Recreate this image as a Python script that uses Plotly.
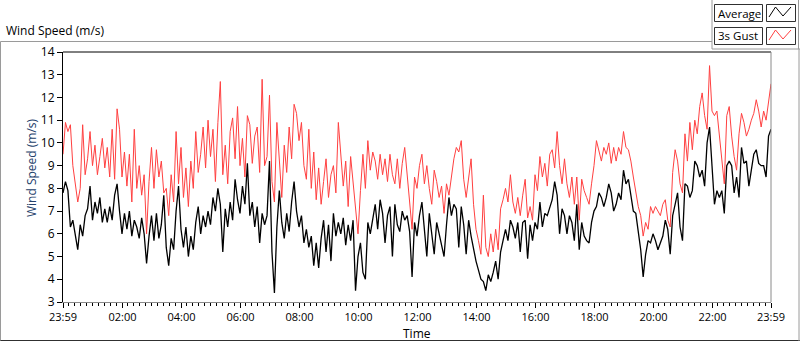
import plotly.graph_objects as go
import pandas as pd

# ---------------- data ----------------
START = "2024-05-01 23:59"
END = "2024-05-02 23:59"
SAMPLE = "5min"

avg_speed = [
    7.8, 8.3, 7.9, 6.3, 6.6, 6.0, 5.3, 6.4, 5.9, 6.8, 7.1, 8.1, 6.6, 7.4, 6.9, 7.6, 6.5, 7.1,
    6.5, 7.2, 6.6, 7.7, 8.2, 7.0, 6.0, 6.9, 6.2, 7.0, 5.9, 6.6, 6.3, 5.8, 6.7, 6.0, 4.7, 5.9,
    6.8, 5.7, 6.9, 5.8, 6.4, 7.7,
    5.4, 4.6, 5.8, 5.3, 7.0, 8.1, 6.2, 5.4, 6.3, 5.0, 5.9, 5.3, 6.5, 7.2, 6.0, 6.8, 6.3, 7.0,
    6.4, 7.6, 7.0, 8.0, 7.3, 5.2, 7.1, 6.3, 7.4, 6.6, 8.4, 7.5, 6.9, 8.1, 7.3, 9.1, 6.8, 7.4,
    6.3, 7.2, 5.6, 6.9, 6.4,
    6.8, 9.2, 5.2, 3.4, 6.3, 7.9, 6.5, 5.8, 6.9, 6.1, 7.4, 8.3, 7.0, 6.3, 6.8, 5.6, 6.2, 5.4,
    5.9, 4.6, 5.6, 4.5, 5.8, 6.6, 5.2, 6.4, 4.8, 6.9, 5.9, 6.5, 6.0, 6.7, 5.5, 6.4, 5.7, 6.6,
    3.5, 5.0, 5.6, 4.3,
    4.0, 6.5, 6.0, 6.7, 7.3, 6.2, 7.5, 6.9, 5.6, 6.8, 7.2, 5.0, 7.3, 6.4, 6.1, 7.0, 6.6, 6.8,
    6.1, 4.1, 6.5, 5.9, 6.8, 7.4, 6.3, 5.0, 6.9, 5.9, 5.1, 6.5, 6.0, 5.4, 5.0, 6.4, 7.6, 6.8,
    7.3, 7.1, 5.4, 7.2, 6.4,
    5.1, 6.6, 5.9, 5.3, 4.8, 4.4, 4.0, 3.9, 3.5, 4.2, 3.9, 4.3, 4.8, 4.0, 5.2, 5.7, 6.2, 5.7,
    6.6, 6.3, 5.8, 6.5, 5.2, 6.5, 6.6, 4.9, 6.4, 5.7, 6.5, 6.2, 7.4, 6.3, 6.9, 6.8, 7.2, 7.5,
    8.3, 7.7, 6.0, 7.1, 6.8,
    6.0, 6.8, 6.5, 5.7, 7.3, 5.3, 6.5, 5.9, 5.7, 5.6, 6.5, 7.0, 7.2, 7.8, 7.6, 7.2, 7.6, 8.2,
    7.8, 7.0, 7.3, 7.8, 7.5, 8.8, 8.2, 8.4, 7.6, 7.0, 6.9, 6.2, 5.3, 4.1, 5.1, 5.7, 5.6, 6.0,
    5.7, 5.3, 5.6, 5.9, 6.6,
    6.2, 5.1, 6.8, 7.3, 7.8, 6.3, 5.7, 8.2, 8.1, 7.6, 7.9, 9.2, 9.0, 8.5, 8.8, 8.1, 10.0, 10.7,
    8.7, 7.3, 7.9, 7.6, 7.9, 6.9, 9.0, 9.2, 9.0, 7.8, 8.5, 7.6, 9.8, 9.1, 9.2, 8.1, 8.8, 9.5,
    9.7, 9.1, 9.0, 9.0, 8.5, 10.3, 10.6,
]

gust_speed = [
    9.5, 10.9, 10.5, 10.8, 9.0, 8.2, 7.4, 8.0, 10.8, 8.6, 9.3, 10.5, 9.0, 9.9, 8.6, 9.4, 10.2, 8.9,
    9.8, 8.5, 10.6, 8.4, 11.5, 10.6, 8.5, 9.6, 8.1, 9.5, 7.4, 10.6, 8.0, 9.0, 7.7, 8.6, 6.0, 8.3,
    9.8, 8.0, 9.7, 8.5, 9.2, 7.8,
    8.0, 6.8, 8.6, 7.4, 10.5, 8.2, 9.8, 7.6, 8.9, 7.2, 9.2, 8.0, 10.5, 8.7, 9.5, 10.7, 8.9, 11.0,
    9.4, 10.6, 8.3, 10.9, 12.7, 8.6, 9.9, 8.2, 10.5, 11.1, 9.3, 11.6, 9.0, 10.2, 8.5, 11.2, 10.8,
    9.1, 10.3, 10.7, 8.7, 12.8, 9.0,
    9.4, 12.1, 8.3, 7.4, 10.9, 9.0, 7.6, 9.9, 8.7, 10.7, 9.3, 11.7, 11.3, 10.1, 10.9, 9.0, 8.4,
    10.6, 8.0, 9.6, 7.5, 8.9, 7.3, 8.3, 9.3, 7.6, 8.6, 9.0, 7.8, 10.9, 9.5, 8.1, 9.2, 7.2, 9.4,
    8.2, 7.0, 6.0, 7.9, 9.5,
    8.0, 10.1, 8.8, 9.6, 9.2, 8.4, 9.5, 8.6, 9.3, 8.3, 9.5, 8.6, 8.2, 9.3, 8.0, 9.1, 9.8, 8.6,
    7.7, 6.2, 8.5, 8.0, 9.0, 9.5, 8.2, 9.0, 8.0, 7.3, 8.8, 8.3, 7.6, 8.1, 6.9, 8.2, 7.7, 8.6,
    9.3, 9.8, 9.6, 10.1, 8.4,
    7.6, 8.4, 9.3, 7.3, 6.2, 5.7, 5.1, 7.7, 5.4, 5.0, 6.0, 5.2, 6.2, 5.3, 7.1, 7.5, 8.0, 7.4,
    8.6, 7.4, 6.9, 7.6, 6.8, 7.7, 8.4, 6.7, 7.2, 6.6, 8.6, 7.9, 9.4, 8.5, 9.1, 8.1, 9.5, 9.7,
    8.9, 10.5, 9.0, 8.2, 9.3,
    8.2, 7.6, 8.5, 7.3, 8.5, 6.6, 8.4, 7.9, 7.6, 7.3, 8.2, 9.0, 10.1, 9.7, 9.2, 9.8, 9.5, 10.0,
    9.1, 9.8, 9.2, 9.8, 9.5, 10.5, 9.8, 9.7, 9.2, 8.5, 7.9, 7.2, 6.8, 5.9, 6.5, 6.2, 7.2, 6.9,
    7.2, 7.0, 6.8, 7.3, 7.5,
    6.6, 6.3, 8.7, 9.7, 9.2, 8.2, 7.8, 10.4, 9.2, 10.9, 9.7, 11.0, 10.4, 11.6, 12.2, 11.2, 10.6,
    13.4, 11.4, 11.2, 11.4, 10.3, 9.0, 8.2, 11.2, 11.6, 10.3, 9.4, 8.8, 10.4, 11.3, 10.9, 10.3,
    10.6, 11.0, 11.3, 11.9, 11.4, 10.7, 11.4, 11.0, 11.9, 12.6,
]

tick_times = [START] + [f"2024-05-02 {h:02d}:00" for h in range(2, 24, 2)] + [END]
tick_text = ["23:59"] + [f"{h:02d}:00" for h in range(2, 24, 2)] + ["23:59"]
y_ticks = list(range(3, 15))

times = pd.date_range(START, periods=len(avg_speed), freq=SAMPLE)

# ---------------- geometry helpers ----------------
W, H = 800, 342
L, R, T, B = 63, 771, 52, 302
FONT = "Open Sans"


def px(x):
    return (x - L) / (R - L)


def py(y):
    return (B - y) / (B - T)


def line(x0, y0, x1, y1, color, width=1):
    return dict(type="line", xref="paper", yref="paper",
                x0=px(x0), y0=py(y0), x1=px(x1), y1=py(y1),
                line=dict(color=color, width=width), layer="above")


def rect(x0, y0, x1, y1, color):
    return dict(type="rect", xref="paper", yref="paper",
                x0=px(x0), y0=py(y0), x1=px(x1), y1=py(y1),
                line=dict(color=color, width=1), fillcolor="rgba(0,0,0,0)", layer="above")


def zig(x0, y0, color):
    pts = [(x0, y0 + 10), (x0 + 6.5, y0), (x0 + 14, y0 + 9), (x0 + 22, y0)]
    path = "M " + " L ".join(f"{px(a)},{py(b)}" for a, b in pts)
    return dict(type="path", xref="paper", yref="paper", path=path,
                line=dict(color=color, width=1), layer="above")


def label(text, x, y, xanchor="center", color="#000000", size=12, angle=0):
    return dict(text=text, x=px(x), y=py(y), xref="paper", yref="paper",
                xanchor=xanchor, yanchor="middle", textangle=angle,
                showarrow=False, font=dict(family=FONT, size=size, color=color))


# ---------------- figure ----------------
fig = go.Figure()
fig.add_trace(go.Scatter(x=times, y=avg_speed, mode="lines", name="Average",
                         line=dict(color="#000000", width=1.3), showlegend=False))
fig.add_trace(go.Scatter(x=times, y=gust_speed, mode="lines", name="3s Gust",
                         line=dict(color="#FF4040", width=1), showlegend=False))

shapes = [
    # plot area border (sunken look)
    line(L, T, R, T, "#000000"),
    line(R, T, R, B, "#8a8a8a"),
    # outer frame
    line(0.5, 41.5, 712, 41.5, "#9a9a9a"),
    line(0.5, 41.5, 0.5, 341, "#9a9a9a"),
    line(0.5, 340.5, 800, 340.5, "#303030"),
    line(799, 49, 799, 341, "#9a9a9a"),
    # legend panel
    line(712, 0, 712, 49, "#9a9a9a"),
    line(712, 49, 800, 49, "#9a9a9a"),
    line(798.5, 0, 798.5, 49, "#9a9a9a"),
    rect(714.5, 4.5, 762.5, 21.5, "#303030"),
    rect(766.5, 4.5, 795.5, 21.5, "#303030"),
    rect(714.5, 27.5, 762.5, 44.5, "#303030"),
    rect(766.5, 27.5, 795.5, 44.5, "#303030"),
    zig(769, 7, "#000000"),
    zig(769, 30, "#FF4040"),
]

annotations = [
    label("Wind Speed (m/s)", 4, 31, xanchor="left"),
    label("Wind Speed (m/s)", 31, 168, color="#23406a", angle=-90),
    label("Time", 417, 333),
    label("Average", 716, 13, xanchor="left", size=11.5),
    label("3s Gust", 716, 36, xanchor="left", size=11.5),
]

fig.update_layout(
    width=W, height=H,
    margin=dict(l=L, r=W - R, t=T, b=H - B, pad=0, autoexpand=False),
    paper_bgcolor="white", plot_bgcolor="white",
    shapes=shapes, annotations=annotations,
    font=dict(family=FONT, size=11, color="#000000"),
    hovermode=False,
    xaxis=dict(
        range=[START, END], type="date", automargin=False,
        tickmode="array", tickvals=tick_times, ticktext=tick_text,
        ticks="outside", ticklen=5, tickcolor="#000000", tickwidth=1,
        showgrid=False, zeroline=False,
        showline=True, linecolor="#8a8a8a", linewidth=1,
        tickfont=dict(family=FONT, size=11, color="#000000"),
        minor=dict(ticks="outside", ticklen=3, tickcolor="#000000",
                   tick0=START, dtick=12 * 60 * 1000, showgrid=False),
    ),
    yaxis=dict(
        range=[3, 14], tickmode="array", tickvals=y_ticks, automargin=False,
        ticks="outside", ticklen=5, tickcolor="#000000", tickwidth=1,
        showgrid=False, zeroline=False,
        showline=True, linecolor="#000000", linewidth=1,
        tickfont=dict(family=FONT, size=12, color="#000000"),
    ),
)

fig.write_html(
    "out.html",
    config={"displayModeBar": False, "staticPlot": True},
    post_script="document.body.style.margin='0';document.body.style.padding='0';",
)
